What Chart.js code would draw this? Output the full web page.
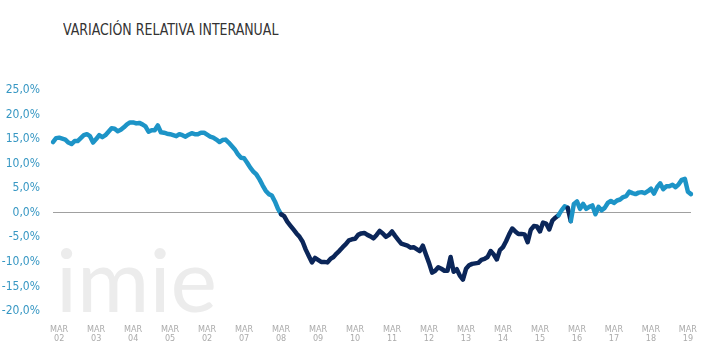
<!DOCTYPE html>
<html lang="es">
<head>
<meta charset="utf-8">
<title>Variación relativa interanual</title>
<script src="https://cdn.jsdelivr.net/npm/chart.js@4/dist/chart.umd.min.js"></script>
<style>
  html, body { margin: 0; padding: 0; background: #fff; }
  #wrap { position: relative; width: 725px; height: 358px; }
  #titulo {
    position: absolute; left: 63px; top: 23px;
    font-family: 'Liberation Sans Narrow', 'DejaVu Sans Condensed', sans-serif;
    font-size: 15.5px; line-height: 15.5px; color: #333;
    transform: scaleX(0.9); transform-origin: left top;
    white-space: nowrap;
  }
  #grafico { position: absolute; left: 0; top: 0; }
</style>
</head>
<body>
<div id="wrap">
  <div id="titulo">VARIACIÓN RELATIVA INTERANUAL</div>
  <canvas id="grafico" width="725" height="358"></canvas>
</div>
<script>
// datos mensuales, enero 2002 - abril 2019
const meses = ['ENE', 'FEB', 'MAR', 'ABR', 'MAY', 'JUN', 'JUL', 'AGO', 'SEP', 'OCT', 'NOV', 'DIC'];
const anios = ['02', '03', '04', '05', '06', '07', '08', '09', '10', '11', '12', '13', '14', '15', '16', '17', '18', '19'];
// tal como aparecen rotulados en el eje (el de 2006 figura como "02")
const rotulosAnio = ['02', '03', '04', '05', '02', '07', '08', '09', '10', '11', '12', '13', '14', '15', '16', '17', '18', '19'];
const ticksY = [-20, -15, -10, -5, 0, 5, 10, 15, 20, 25];

const variacion = [
    14.4, 15.2, 15.3, 15.1, 14.9, 14.3, 14.0, 14.6, 14.6, 15.2, 15.8, 16.0,   // 2002
    15.6, 14.3, 15.0, 15.8, 15.4, 15.8, 16.5, 17.2, 17.1, 16.6, 16.9, 17.4,   // 2003
    18.0, 18.4, 18.4, 18.2, 18.3, 18.0, 17.6, 16.5, 16.8, 16.8, 17.8, 16.4,   // 2004
    16.3, 16.1, 16.0, 15.8, 15.6, 16.0, 15.8, 15.5, 15.9, 16.2, 16.0, 16.0,   // 2005
    16.3, 16.3, 15.9, 15.5, 15.3, 14.9, 14.4, 14.8, 14.9, 14.3, 13.6, 12.9,   // 2006
    11.9, 11.2, 11.1, 10.2, 9.2, 8.4, 7.8, 6.8, 5.6, 4.5, 3.8, 3.5,           // 2007
    2.3, 0.8, -0.3, -0.7, -1.8, -2.6, -3.4, -4.2, -4.9, -5.9, -7.5, -8.8,     // 2008
    -10.1, -9.2, -9.6, -10.0, -10.0, -10.1, -9.4, -9.0, -8.3, -7.7, -7.0, -6.4, // 2009
    -5.6, -5.4, -5.3, -4.5, -4.2, -4.1, -4.5, -4.8, -5.2, -4.5, -3.7, -4.2,   // 2010
    -4.9, -4.5, -3.8, -4.7, -5.5, -6.3, -6.5, -6.7, -7.1, -7.0, -7.4, -7.8,   // 2011
    -6.7, -8.5, -10.2, -12.2, -11.8, -11.1, -11.4, -11.8, -11.8, -9.0, -12.0, -11.5, // 2012
    -12.8, -13.6, -11.4, -10.7, -10.4, -10.3, -10.2, -9.6, -9.4, -9.0, -7.8, -8.5,   // 2013
    -9.5, -7.6, -7.0, -5.8, -4.4, -3.2, -3.8, -4.3, -4.3, -4.4, -6.0, -3.5,   // 2014
    -2.7, -2.8, -3.8, -2.0, -2.2, -3.4, -1.6, -1.0, -0.5, 0.5, 1.3, 1.0,      // 2015
    -1.7, 1.8, 2.3, 0.8, 1.8, 0.8, 1.2, 1.5, -0.3, 1.2, 0.5, 1.0,             // 2016
    2.0, 2.4, 2.0, 2.5, 2.7, 3.2, 3.4, 4.3, 4.0, 3.8, 4.1, 4.2,               // 2017
    4.0, 4.4, 4.9, 3.9, 5.2, 6.0, 4.8, 5.4, 5.4, 5.7, 5.2, 5.8,               // 2018
    6.7, 6.9, 4.3, 3.8                                                        // 2019
];

const AZUL_CLARO = '#1d94c7';
const AZUL_OSCURO = '#0b2659';

document.addEventListener('DOMContentLoaded', function () {
    const etiquetas = [];
    anios.forEach(function (a) {
        meses.forEach(function (m) {
            if (etiquetas.length < variacion.length) etiquetas.push(m + ' ' + a);
        });
    });

    // logo de fondo
    const marcaAgua = {
        id: 'marcaAgua',
        beforeDraw: function (chart) {
            const ctx = chart.ctx;
            ctx.save();
            ctx.font = '88px Lato, sans-serif';
            ctx.fillStyle = '#ececec';
            ctx.textBaseline = 'alphabetic';
            ctx.textAlign = 'left';
            ctx.fillText('imie', 56, 312);
            ctx.restore();
        }
    };

    new Chart(document.getElementById('grafico'), {
        type: 'line',
        data: {
            labels: etiquetas,
            datasets: [{
                data: variacion,
                borderColor: AZUL_CLARO,
                borderWidth: 4.5,
                borderJoinStyle: 'round',
                borderCapStyle: 'round',
                pointRadius: 0,
                tension: 0,
                segment: {
                    // tramo oscuro cuando la variación es negativa
                    borderColor: function (c) {
                        return (c.p0.parsed.y + c.p1.parsed.y) / 2 < 0 ? AZUL_OSCURO : AZUL_CLARO;
                    }
                }
            }]
        },
        options: {
            responsive: false,
            animation: false,
            layout: { padding: { top: 90, right: 34, left: 0, bottom: 0 } },
            plugins: {
                legend: { display: false },
                tooltip: { enabled: false }
            },
            scales: {
                x: {
                    grid: { display: false },
                    border: { display: false },
                    afterFit: function (s) { s.height = 47; },
                    ticks: {
                        autoSkip: false,
                        maxRotation: 0,
                        minRotation: 0,
                        padding: 6,
                        color: '#ababab',
                        font: { family: "'Liberation Sans Narrow', 'DejaVu Sans Condensed', sans-serif", size: 9, lineHeight: 1.0 },
                        callback: function (value, index) {
                            const l = this.getLabelForValue(value);
                            if (l.indexOf('MAR') === 0) return ['MAR', rotulosAnio[Math.floor(index / 12)]];
                            return null;
                        }
                    }
                },
                y: {
                    min: ticksY[0],
                    max: ticksY[ticksY.length - 1],
                    afterFit: function (s) { s.width = 53; },
                    afterBuildTicks: function (s) { s.ticks = ticksY.map(function (v) { return { value: v }; }); },
                    border: { display: false },
                    grid: {
                        drawTicks: false,
                        lineWidth: 1,
                        color: function (c) { return c.tick && c.tick.value === 0 ? '#a0a0a0' : 'rgba(0,0,0,0)'; }
                    },
                    ticks: {
                        padding: 13,
                        color: '#3797c3',
                        font: { family: "'Liberation Sans Narrow', 'DejaVu Sans Condensed', sans-serif", size: 12 },
                        callback: function (v) { return v.toFixed(1).replace('.', ',') + '%'; }
                    }
                }
            }
        },
        plugins: [marcaAgua]
    });
});
</script>
</body>
</html>
